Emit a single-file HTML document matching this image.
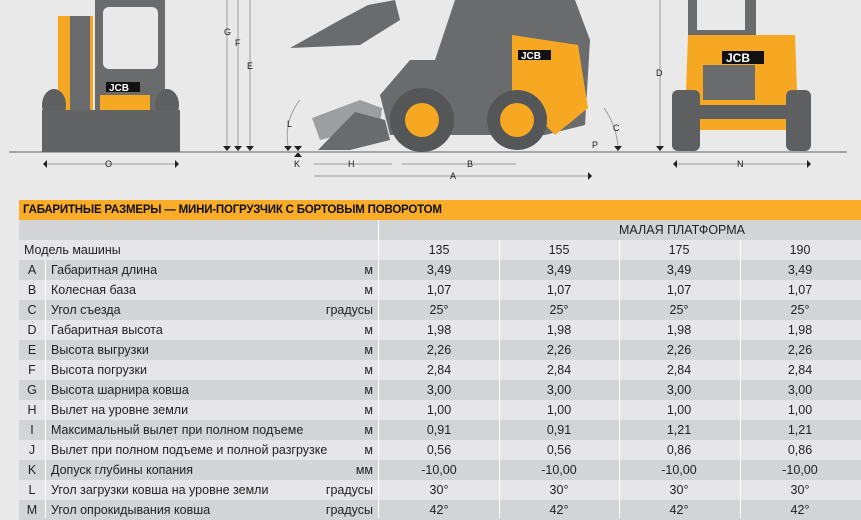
<!DOCTYPE html>
<html><head><meta charset="utf-8"><style>
body{margin:0;width:861px;height:518px;background:#e9e9ea;font-family:"Liberation Sans",sans-serif;overflow:hidden;position:relative}
svg{position:absolute;left:0;top:0}
.t{position:absolute;left:19px;width:842px}
.row{position:absolute;left:0;width:842px;height:20px;font-size:12.5px;color:#222;line-height:20px}
.d{background:#d3d4d6}.l{background:#e6e6e8}
.row span{position:absolute;top:0}
.c{text-align:center;width:120px}
</style></head><body>
<svg width="861" height="200" viewBox="0 0 861 200">
<g fill="none" stroke="#9a9b9d" stroke-width="1">
<line x1="227" y1="0" x2="227" y2="146"/><line x1="238" y1="0" x2="238" y2="146"/><line x1="250" y1="0" x2="250" y2="146"/>
<line x1="660" y1="0" x2="660" y2="146"/>
<line x1="44" y1="164" x2="178" y2="164"/><line x1="314" y1="164" x2="392" y2="164"/><line x1="402" y1="164" x2="516" y2="164"/>
<line x1="314" y1="176" x2="592" y2="176"/><line x1="673" y1="164" x2="810" y2="164"/>
<path d="M288 146 Q284 120 300 100"/><path d="M618 146 Q616 125 604 108"/>
</g>
<g fill="#1a1a1a" font-size="9"><text x="224" y="35">G</text><text x="235" y="46">F</text><text x="247" y="69">E</text>
<text x="656" y="76">D</text><text x="287" y="127">L</text><text x="613" y="131">C</text><text x="592" y="148">P</text>
<text x="294" y="167">K</text><text x="105" y="167">O</text><text x="348" y="167">H</text><text x="467" y="167">B</text>
<text x="450" y="179">A</text><text x="737" y="167">N</text></g>
<g fill="#222"><path d="M223 146h8l-4 5z"/><path d="M234 146h8l-4 5z"/><path d="M246 146h8l-4 5z"/><path d="M656 146h8l-4 5z"/><path d="M284 146h8l-4 5z"/><path d="M614 146h8l-4 5z"/><path d="M294 146h8l-4 5z"/><path d="M294 157h8l-4-5z"/>
<path d="M43 164l4-4v8z"/><path d="M179 164l-4-4v8z"/><path d="M673 164l4-4v8z"/><path d="M811 164l-4-4v8z"/><path d="M592 176l-4-4v8z"/></g>
<rect x="9" y="151" width="838" height="2" fill="#a5a6a8"/>
<!-- left front view -->
<rect x="95" y="0" width="70" height="112" fill="#6a6b6d"/><rect x="103" y="7" width="55" height="62" rx="6" fill="#e9e9ea"/>
<rect x="58" y="16" width="35" height="95" fill="#f7a823"/><rect x="70" y="16" width="20" height="100" fill="#6a6b6d"/>
<ellipse cx="54" cy="105" rx="12" ry="16" fill="#5e5f61"/><ellipse cx="167" cy="105" rx="12" ry="16" fill="#5e5f61"/>
<rect x="100" y="95" width="50" height="20" fill="#f7a823"/>
<rect x="42" y="110" width="138" height="42" fill="#626365"/><rect x="106" y="82" width="34" height="10" fill="#111"/><text x="109" y="91" fill="#fff" font-size="10" font-weight="bold">JCB</text>
<!-- side view -->
<path d="M290 48 L340 20 L368 5 L395 0 L400 20 L360 45 Z" fill="#6a6b6d"/>
<path d="M312 118 L360 100 L382 108 L380 125 L320 140 Z" fill="#9d9ea0"/>
<path d="M318 150 L355 112 L385 120 L390 140 L350 150 Z" fill="#6a6b6d"/>
<path d="M380 95 L410 60 L440 0 L575 0 L590 40 L585 125 L545 135 L390 135 Z" fill="#6a6b6d"/>
<path d="M405 0 L455 0 L435 60 L410 60 Z" fill="#e9e9ea"/>
<path d="M512 35 L578 45 L588 108 L555 135 L512 90 Z" fill="#f7a823"/>
<rect x="518" y="50" width="33" height="10" fill="#111"/><text x="521" y="59" fill="#fff" font-size="10" font-weight="bold">JCB</text>
<circle cx="422" cy="120" r="32" fill="#555658"/><circle cx="422" cy="120" r="17" fill="#f7a823"/>
<circle cx="517" cy="120" r="30" fill="#555658"/><circle cx="517" cy="120" r="17" fill="#f7a823"/>
<!-- right rear view -->
<rect x="688" y="0" width="68" height="40" fill="#6a6b6d"/><rect x="697" y="0" width="48" height="30" fill="#e9e9ea"/>
<path d="M688 35 L795 35 L797 90 L792 130 L690 130 L686 90 Z" fill="#f7a823"/>
<rect x="703" y="65" width="52" height="35" fill="#6a6b6d"/>
<rect x="722" y="51" width="42" height="13" fill="#111"/><text x="726" y="62" fill="#fff" font-size="12" font-weight="bold">JCB</text>
<rect x="672" y="90" width="28" height="61" rx="6" fill="#5e5f61"/><rect x="786" y="90" width="25" height="61" rx="6" fill="#5e5f61"/>
<rect x="690" y="105" width="100" height="14" fill="#5e5f61"/>
</svg>
<div class="t" style="top:200px">
<div style="position:absolute;top:0;left:0;width:842px;height:20px;background:#f9ac28;font-weight:bold;font-size:11.5px;line-height:21px;color:#111;padding-left:4px;box-sizing:border-box;letter-spacing:-0.2px">ГАБАРИТНЫЕ РАЗМЕРЫ — МИНИ-ПОГРУЗЧИК С БОРТОВЫМ ПОВОРОТОМ</div>
<div class="row d" style="top:20px"><span style="left:600px">МАЛАЯ ПЛАТФОРМА</span></div>
<div class="row l" style="top:40px"><span style="left:5px">Модель машины</span><span class="c" style="left:360px">135</span><span class="c" style="left:480px">155</span><span class="c" style="left:600px">175</span><span class="c" style="left:721px">190</span></div>
</div>
<div class="t" id="tb" style="top:260px"></div>
<div style="position:absolute;left:378px;top:220px;width:1px;height:298px;background:#fff"></div>
<div style="position:absolute;left:499px;top:240px;width:1px;height:278px;background:#fff"></div>
<div style="position:absolute;left:619px;top:240px;width:1px;height:278px;background:#fff"></div>
<div style="position:absolute;left:740px;top:240px;width:1px;height:278px;background:#fff"></div>
<div style="position:absolute;left:45px;top:260px;width:1px;height:258px;background:#fff"></div>
<script>
var R=[["A","Габаритная длина","м","3,49","3,49","3,49","3,49"],["B","Колесная база","м","1,07","1,07","1,07","1,07"],["C","Угол съезда","градусы","25°","25°","25°","25°"],["D","Габаритная высота","м","1,98","1,98","1,98","1,98"],["E","Высота выгрузки","м","2,26","2,26","2,26","2,26"],["F","Высота погрузки","м","2,84","2,84","2,84","2,84"],["G","Высота шарнира ковша","м","3,00","3,00","3,00","3,00"],["H","Вылет на уровне земли","м","1,00","1,00","1,00","1,00"],["I","Максимальный вылет при полном подъеме","м","0,91","0,91","1,21","1,21"],["J","Вылет при полном подъеме и полной разгрузке","м","0,56","0,56","0,86","0,86"],["K","Допуск глубины копания","мм","-10,00","-10,00","-10,00","-10,00"],["L","Угол загрузки ковша на уровне земли","градусы","30°","30°","30°","30°"],["M","Угол опрокидывания ковша","градусы","42°","42°","42°","42°"]];
var h="";R.forEach(function(r,i){h+='<div class="row '+(i%2?'l':'d')+'" style="top:'+(i*20)+'px"><span style="left:0;width:26px;text-align:center">'+r[0]+'</span><span style="left:32px">'+r[1]+'</span><span style="right:488px">'+r[2]+'</span><span class="c" style="left:360px">'+r[3]+'</span><span class="c" style="left:480px">'+r[4]+'</span><span class="c" style="left:600px">'+r[5]+'</span><span class="c" style="left:721px">'+r[6]+'</span></div>';});
document.getElementById("tb").innerHTML=h;
</script>
</body></html>
